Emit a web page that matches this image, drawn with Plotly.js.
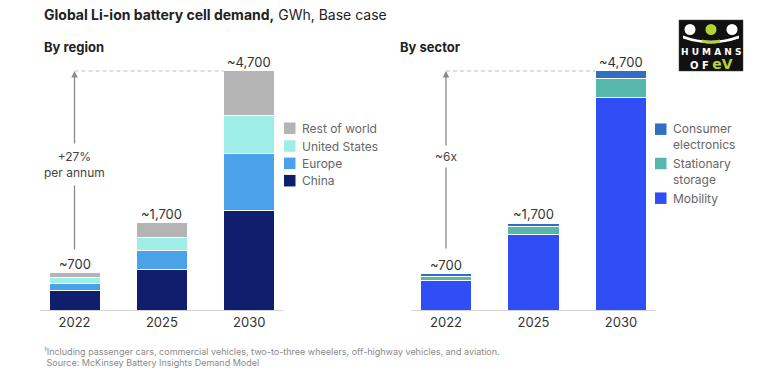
<!DOCTYPE html>
<html>
<head>
<meta charset="utf-8">
<script src="https://cdn.plot.ly/plotly-3.0.1.min.js"></script>
<style>html,body{margin:0;padding:0;background:#fff;}#chart{width:768px;height:392px;}</style>
</head>
<body>
<div id="chart"></div>
<script>
// ---- data ----
const years = ['2022', '2025', '2030'];
const totalLabels = ['~700', '~1,700', '~4,700'];
// By region (GWh)
const china = [380, 800, 1950];
const europe = [150, 375, 1120];
const unitedStates = [105, 255, 760];
const restOfWorld = [100, 285, 870];
// By sector (GWh)
const mobility = [585, 1490, 4170];
const stationaryStorage = [80, 145, 385];
const consumerElectronics = [45, 75, 145];

const regionNames = ['China', 'Europe', 'United States', 'Rest of world'];
const sectorNames = ['Mobility', 'Stationary<br>storage', 'Consumer<br>electronics'];
const growthLabels = ['+27%<br>per annum', '~6x'];

// ---- styling ----
const FONT = 'Inter, "Liberation Sans", sans-serif';
const regionColors = ['#0f1f6e', '#4aa3ea', '#9eede6', '#b4b4b4'];
const sectorColors = ['#2f4ef5', '#55b8aa', '#2f70c2'];
const W = 768, H = 392;
const px = v => v / W;
const py = v => 1 - v / H;
const BW = 0.584;

const xpos = [0, 1, 2];
function bar(y, name, color, xa, ya) {
  return {type: 'bar', x: xpos, y: y, name: name, width: BW, xaxis: xa, yaxis: ya,
    marker: {color: color, line: {color: '#ffffff', width: 1}}, showlegend: false, hoverinfo: 'skip'};
}
const regionSeries = [china, europe, unitedStates, restOfWorld];
const sectorSeries = [mobility, stationaryStorage, consumerElectronics];
const traces = [];
regionSeries.forEach((s, i) => traces.push(bar(s, regionNames[i], regionColors[i], 'x', 'y')));
sectorSeries.forEach((s, i) => traces.push(bar(s, sectorNames[i], sectorColors[i], 'x2', 'y2')));

const sum = arrs => arrs[0].map((_, i) => arrs.reduce((a, s) => a + s[i], 0));
const regionTotals = sum(regionSeries);
const sectorTotals = sum(sectorSeries);

const yDom = [(H - 310) / H, (H - 55.7) / H];
const xAxisBase = {range: [-0.395, 2.386], tickvals: xpos, ticktext: years, showgrid: false, zeroline: false,
  showline: true, linecolor: '#d3d3d3', linewidth: 1, ticks: '', fixedrange: true,
  tickfont: {family: FONT, size: 13, color: '#333'}};
const yAxisBase = {range: [0, 5000], domain: yDom, showgrid: false, zeroline: false, showline: false,
  showticklabels: false, fixedrange: true};

const annotations = [];
const shapes = [];

// totals above bars
[[regionTotals, 'x', 'y'], [sectorTotals, 'x2', 'y2']].forEach(([tot, xa, ya]) => {
  tot.forEach((t, i) => annotations.push({xref: xa, yref: ya, x: xpos[i], y: t, text: totalLabels[i],
    showarrow: false, yanchor: 'middle', yshift: 9, font: {family: FONT, size: 13, color: '#333'}}));
});

// dashed reference lines and growth arrows
[[regionTotals, 'x', 'y', 1160, 2860, growthLabels[0], 5], [sectorTotals, 'x2', 'y2', 1180, 3010, growthLabels[1], 3]].forEach(([tot, xa, ya, tail, mid, lab, pad]) => {
  const top = tot[2];
  shapes.push({type: 'line', xref: xa, yref: ya, x0: 0, x1: 2 - BW / 2, y0: top, y1: top,
    line: {color: '#bdbdbd', width: 1, dash: '4px,3px'}});
  annotations.push({xref: xa, yref: ya, x: 0, y: top, axref: xa, ayref: ya, ax: 0, ay: tail, text: '',
    showarrow: true, arrowhead: 2, arrowsize: 1, arrowwidth: 1.3, arrowcolor: '#8a8a8a', standoff: 0});
  annotations.push({xref: xa, yref: ya, x: 0, y: mid, text: lab, showarrow: false, bgcolor: '#ffffff',
    borderpad: pad, font: {family: FONT, size: 12, color: '#444'}});
});

// legends (manual)
function legendItem(x, yc, color, text, ySwatch) {
  shapes.push({type: 'rect', xref: 'paper', yref: 'paper', x0: px(x), x1: px(x + 11.5),
    y0: py(ySwatch + 5.75), y1: py(ySwatch - 5.75), fillcolor: color, line: {width: 0}});
  annotations.push({xref: 'paper', yref: 'paper', x: px(x + 16), y: py(yc), text: text, showarrow: false,
    xanchor: 'left', yanchor: 'middle', align: 'left', font: {family: FONT, size: 12, color: '#666'}});
}
const regionLegendY = [180.7, 163.3, 146, 128.3];
regionNames.forEach((n, i) => legendItem(284, regionLegendY[i], regionColors[i], n, regionLegendY[i]));
const sectorSwatchY = [198.2, 163.5, 129.2];
const sectorTextY = [198.2, 171.2, 136.6];
sectorNames.forEach((n, i) => legendItem(655, sectorTextY[i], sectorColors[i], n, sectorSwatchY[i]));

// titles & notes
const txt = (x, y, text, size, color, extra) => Object.assign({xref: 'paper', yref: 'paper', x: px(x), y: py(y),
  text: text, showarrow: false, xanchor: 'left', yanchor: 'middle', align: 'left',
  font: {family: FONT, size: size, color: color}}, extra || {});
annotations.push(txt(42, 15, '<b>Global Li-ion battery cell demand,</b> GWh, Base case', 14, '#222'));
annotations.push(txt(42, 47, '<b>By region</b>', 13, '#222'));
annotations.push(txt(398, 47, '<b>By sector</b>', 13, '#222'));
annotations.push(txt(42, 351, '¹Including passenger cars, commercial vehicles, two-to-three wheelers, off-highway vehicles, and aviation.', 9, '#8a8a8a'));
annotations.push(txt(42, 362.5, ' Source: McKinsey Battery Insights Demand Model', 9, '#8a8a8a'));

// logo
const LIME = '#b3d335';
shapes.push({type: 'rect', xref: 'paper', yref: 'paper', x0: px(679), x1: px(743), y0: py(71), y1: py(20),
  fillcolor: '#111111', line: {color: '#444', width: 0.5}});
[[690, '#ffffff'], [711, LIME], [732, '#ffffff']].forEach(([cx, c]) => {
  shapes.push({type: 'circle', xref: 'paper', yref: 'paper', x0: px(cx - 5.5), x1: px(cx + 5.5), y0: py(35), y1: py(24),
    fillcolor: c, line: {width: 0}});
});
shapes.push({type: 'path', xref: 'paper', yref: 'paper',
  path: `M ${px(683)} ${py(35.5)} Q ${px(711)} ${py(46)} ${px(739)} ${py(35.5)} L ${px(739)} ${py(38.5)} Q ${px(711)} ${py(48)} ${px(683)} ${py(38.5)} Z`,
  fillcolor: '#ffffff', line: {width: 0}});
shapes.push({type: 'path', xref: 'paper', yref: 'paper',
  path: `M ${px(702)} ${py(39.5)} Q ${px(711)} ${py(42)} ${px(720)} ${py(39.5)} L ${px(720)} ${py(42.5)} Q ${px(711)} ${py(45)} ${px(702)} ${py(42.5)} Z`,
  fillcolor: LIME, line: {width: 0}});
annotations.push({xref: 'paper', yref: 'paper', x: px(711), y: py(52), text: '<b>H U M A N S</b>', showarrow: false,
  xanchor: 'center', yanchor: 'middle', font: {family: '"DejaVu Sans", sans-serif', size: 9, color: '#ffffff'}});
annotations.push({xref: 'paper', yref: 'paper', x: px(711), y: py(63.5), text: '<b>O F <span style="color:' + LIME + ';font-size:14px">eV</span></b>', showarrow: false,
  xanchor: 'center', yanchor: 'middle', font: {family: '"DejaVu Sans", sans-serif', size: 10, color: '#ffffff'}});

const layout = {
  width: W, height: H, margin: {l: 0, r: 0, t: 0, b: 0}, paper_bgcolor: '#fff', plot_bgcolor: '#fff',
  barmode: 'stack', bargap: 0, showlegend: false,
  xaxis: Object.assign({}, xAxisBase, {domain: [px(40), px(283)], anchor: 'y'}),
  yaxis: Object.assign({}, yAxisBase, {anchor: 'x'}),
  xaxis2: Object.assign({}, xAxisBase, {domain: [px(411), px(656)], range: [-0.4, 2.4], anchor: 'y2'}),
  yaxis2: Object.assign({}, yAxisBase, {anchor: 'x2'}),
  shapes: shapes, annotations: annotations,
  font: {family: FONT}
};
Plotly.newPlot('chart', traces, layout, {displayModeBar: false, staticPlot: true});
</script>
</body>
</html>
